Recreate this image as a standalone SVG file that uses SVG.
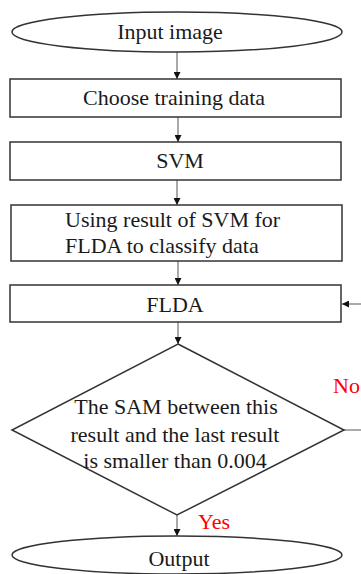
<svg xmlns="http://www.w3.org/2000/svg" width="361" height="574" viewBox="0 0 361 574">
<defs>
<marker id="ah" viewBox="0 0 10 10" refX="10" refY="5" markerWidth="7" markerHeight="7" markerUnits="userSpaceOnUse" orient="auto">
<path d="M0,0 L10,5 L0,10 Z" fill="#111"/>
</marker>
<style>
.shape{fill:#fff;stroke:#333;stroke-width:1.5}
.t{font-family:"Liberation Serif","Times New Roman",serif;font-size:22px;fill:#1a1a1a}
.c{text-anchor:middle}
.red{fill:#ff0000}
.conn{stroke:#555;stroke-width:1;fill:none;marker-end:url(#ah)}
</style>
</defs>
<rect width="361" height="574" fill="#fff"/>
<g id="connectors">
<line class="conn" x1="177" y1="52" x2="177" y2="79"/>
<line class="conn" x1="178" y1="117" x2="178" y2="142"/>
<line class="conn" x1="177" y1="180" x2="177" y2="205"/>
<line class="conn" x1="178" y1="261" x2="178" y2="285"/>
<line class="conn" x1="178" y1="322" x2="178" y2="344"/>
<line class="conn" x1="177" y1="515" x2="177" y2="536"/>
<line class="conn" x1="361" y1="304" x2="342" y2="304"/>
<line stroke="#555" stroke-width="1" x1="344" y1="430" x2="361" y2="430"/>
<text class="t red" x="333" y="393">No</text>
<text class="t red" x="198" y="529">Yes</text>
</g>
<g id="input">
<ellipse class="shape" cx="177" cy="32" rx="165" ry="20"/>
<text class="t c" x="170" y="39">Input image</text>
</g>
<g id="choose">
<rect class="shape" x="10" y="79" width="331" height="38"/>
<text class="t c" x="174" y="105">Choose training data</text>
</g>
<g id="svm">
<rect class="shape" x="10" y="142" width="331" height="38"/>
<text class="t c" x="180" y="168">SVM</text>
</g>
<g id="using">
<rect class="shape" x="11" y="205" width="331" height="56"/>
<text class="t" x="65" y="227">Using result of SVM for</text>
<text class="t" x="65" y="253">FLDA to classify data</text>
</g>
<g id="flda">
<rect class="shape" x="10" y="285" width="331" height="37"/>
<text class="t c" x="175" y="312">FLDA</text>
</g>
<g id="decision">
<polygon class="shape" points="178,344 344,430 177,515 12,430"/>
<text class="t c" x="176" y="414">The SAM between this</text>
<text class="t c" x="175" y="442">result and the last result</text>
<text class="t c" x="175" y="468">is smaller than 0.004</text>
</g>
<g id="output">
<ellipse class="shape" cx="177" cy="555" rx="165" ry="19"/>
<text class="t c" x="179" y="566">Output</text>
</g>
</svg>
